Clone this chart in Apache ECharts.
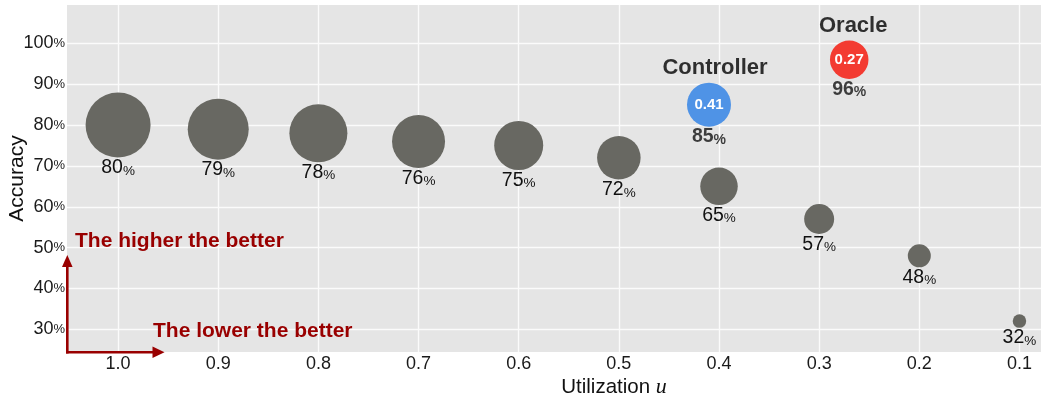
<!DOCTYPE html>
<html>
<head>
<meta charset="utf-8">
<script src="https://cdn.jsdelivr.net/npm/echarts@6/dist/echarts.min.js"></script>
<style>
  html, body { margin: 0; padding: 0; background: #ffffff; }
  #chart { width: 1041px; height: 398px; }
</style>
</head>
<body>
<div id="chart"></div>
<script>
// Fixed-utilization runs: utilization u and resulting accuracy (%)
const utilization = [1.0, 0.9, 0.8, 0.7, 0.6, 0.5, 0.4, 0.3, 0.2, 0.1];
const accuracy = [80, 79, 78, 76, 75, 72, 65, 57, 48, 32];

// Adaptive policies: [utilization, accuracy]
const controllerPoint = [0.41, 85];
const oraclePoint = [0.27, 96];

// Axis tick values
const xTickValues = [1.0, 0.9, 0.8, 0.7, 0.6, 0.5, 0.4, 0.3, 0.2, 0.1];
const yTickValues = [30, 40, 50, 60, 70, 80, 90, 100];

// ---- styling ----
const FONT = '"Liberation Sans", Arial, Helvetica, sans-serif';
const RED = '#990000';
const GREY_DOT = '#686862';
const dotDiameter = [65, 61, 58, 53, 49, 43.5, 37.5, 30, 23, 13.5];

const fixedRuns = utilization.map((u, i) => ({
  value: [u, accuracy[i]],
  symbolSize: dotDiameter[i]
}));

function pctRich(bold, size, pSize) {
  return {
    n: { fontFamily: FONT, fontSize: size, fontWeight: bold ? 'bold' : 'normal', color: '#111', lineHeight: size + 1 },
    p: { fontFamily: FONT, fontSize: pSize, fontWeight: bold ? 'bold' : 'normal', color: '#111', lineHeight: size + 1, verticalAlign: 'bottom' }
  };
}

// A highlighted policy: coloured disc with its utilization inside,
// its name above and its accuracy below.
function policySeries(name, point, color, size, nameOffset) {
  return [
    {
      name: name,
      type: 'scatter',
      data: [point],
      symbolSize: size,
      itemStyle: { color: color, opacity: 1 },
      z: 3,
      label: {
        show: true,
        position: 'inside',
        formatter: p => p.value[0].toFixed(2),
        fontFamily: FONT, fontSize: 15, fontWeight: 'bold', color: '#ffffff'
      }
    },
    {
      name: name + ' name',
      type: 'scatter',
      data: [point],
      symbolSize: size,
      itemStyle: { color: 'rgba(0,0,0,0)' },
      z: 4,
      silent: true,
      label: {
        show: true,
        position: 'top',
        distance: 4,
        offset: nameOffset,
        formatter: name,
        fontFamily: FONT, fontSize: 22, fontWeight: 'bold', color: '#000000'
      }
    },
    {
      name: name + ' accuracy',
      type: 'scatter',
      data: [point],
      symbolSize: size,
      itemStyle: { color: 'rgba(0,0,0,0)' },
      z: 4,
      silent: true,
      label: {
        show: true,
        position: 'bottom',
        distance: 0,
        formatter: p => '{n|' + p.value[1] + '}{p|%}',
        rich: pctRich(true, 19.5, 14)
      }
    }
  ];
}

const chart = echarts.init(document.getElementById('chart'), null, { renderer: 'canvas' });

chart.setOption({
  animation: false,
  backgroundColor: '#ffffff',
  grid: {
    left: 67, top: 5, right: 0, bottom: 46,
    outerBoundsMode: 'none',
    containLabel: false,
    show: true, backgroundColor: '#e5e5e5', borderWidth: 0
  },
  xAxis: {
    type: 'value',
    inverse: true,
    min: 0.0785,
    max: 1.051,
    axisLine: { show: false },
    axisTick: { show: false, customValues: xTickValues },
    splitLine: { show: true, lineStyle: { color: '#fbfbfb', width: 1.3 } },
    axisLabel: {
      customValues: xTickValues,
      formatter: v => v.toFixed(1),
      fontFamily: FONT, fontSize: 18, color: '#1a1a1a', margin: 3
    },
    name: '{t|Utilization }{u|u}',
    nameLocation: 'middle',
    nameMoveOverlap: false,
    nameGap: 24,
    nameTextStyle: {
      padding: [0, 0, 0, 120],
      rich: {
        t: { fontFamily: FONT, fontSize: 20.5, color: '#111' },
        u: { fontFamily: '"Liberation Serif", "DejaVu Serif", serif', fontStyle: 'italic', fontSize: 22, color: '#111' }
      }
    }
  },
  yAxis: {
    type: 'value',
    min: 24.44,
    max: 109.4,
    axisLine: { show: false },
    axisTick: { show: false, customValues: yTickValues },
    splitLine: { show: true, lineStyle: { color: '#fbfbfb', width: 1.3 } },
    axisLabel: {
      customValues: yTickValues,
      margin: 2,
      formatter: v => '{n|' + v + '}{p|%}',
      rich: {
        n: { fontFamily: FONT, fontSize: 18, color: '#1a1a1a' },
        p: { fontFamily: FONT, fontSize: 13, color: '#1a1a1a' }
      }
    },
    name: 'Accuracy',
    nameLocation: 'middle',
    nameMoveOverlap: false,
    nameRotate: 90,
    nameGap: 39,
    nameTextStyle: { fontFamily: FONT, fontSize: 21, color: '#111' }
  },
  series: [
    {
      name: 'Fixed utilization',
      type: 'scatter',
      data: fixedRuns,
      itemStyle: { color: GREY_DOT, opacity: 1 },
      z: 2,
      label: {
        show: true,
        position: 'bottom',
        distance: 0,
        formatter: p => '{n|' + p.value[1] + '}{p|%}',
        rich: pctRich(false, 19.5, 13.5)
      }
    },
    ...policySeries('Controller', controllerPoint, '#4f93e6', 44, [6, 0]),
    ...policySeries('Oracle', oraclePoint, '#f33b31', 38.5, [4, 0])
  ],
  graphic: [
    // "higher is better" arrow along the accuracy axis
    { type: 'line', z: 10, shape: { x1: 67.3, y1: 353.5, x2: 67.3, y2: 265 }, style: { stroke: RED, lineWidth: 2.6 } },
    { type: 'polygon', z: 10, shape: { points: [[67.3, 255], [62, 267], [72.6, 267]] }, style: { fill: RED } },
    { type: 'text', z: 10, x: 75, y: 241.5,
      style: { text: 'The higher the better', fill: RED, font: 'bold 21px ' + FONT, align: 'left', verticalAlign: 'middle' } },
    // "lower is better" arrow along the utilization axis
    { type: 'line', z: 10, shape: { x1: 66, y1: 352.3, x2: 154, y2: 352.3 }, style: { stroke: RED, lineWidth: 2.6 } },
    { type: 'polygon', z: 10, shape: { points: [[164.5, 352.3], [152.5, 346.5], [152.5, 358.1]] }, style: { fill: RED } },
    { type: 'text', z: 10, x: 153, y: 331,
      style: { text: 'The lower the better', fill: RED, font: 'bold 21px ' + FONT, align: 'left', verticalAlign: 'middle' } }
  ]
});
</script>
</body>
</html>
